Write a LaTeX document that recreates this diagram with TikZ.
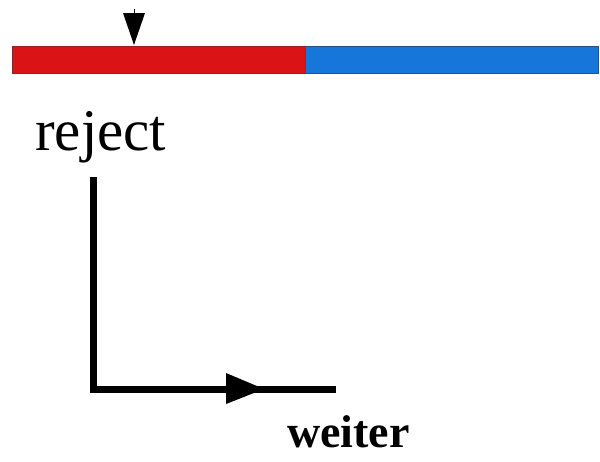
\documentclass[tikz,border=0pt]{standalone}
\usepackage{fontspec}
\setmainfont{Liberation Serif}
\usetikzlibrary{arrows.meta}
\definecolor{barred}{RGB}{218,20,22}
\definecolor{barblue}{RGB}{22,118,218}
\definecolor{rededge}{RGB}{150,30,30}
\definecolor{blueedge}{RGB}{40,80,130}
\begin{document}
\begin{tikzpicture}[x=1pt,y=-1pt,
  segment/.style={line width=1pt},
  flow/.style={line width=7pt, line cap=butt},
  lbl/.style={inner sep=0pt, anchor=base west}]
\useasboundingbox (0,0) rectangle (600,461);
% bar
\filldraw[segment, fill=barred, draw=rededge] (12,46) rectangle (305,73);
\filldraw[segment, fill=barblue, draw=blueedge] (305,46) rectangle (598,73);
% marker
\coordinate (mtop) at (134,9);
\coordinate (mtip) at (134,45);
\draw[line width=1pt] (mtop) -- (134,14);
\fill (123,13) -- (145,13) -- (mtip) -- cycle;
% labels
\node[lbl, font=\fontsize{59}{59}\selectfont] (rej) at (35,150) {reject};
\node[lbl, font=\fontsize{46}{46}\selectfont\bfseries] (wei) at (287,447) {weiter};
% L connector
\coordinate (ltop) at (93,177);
\coordinate (lend) at (336,389);
\draw[flow, line join=miter] (ltop) |- (lend);
\fill (226,373) -- (264,389) -- (226,404) -- cycle;
\end{tikzpicture}
\end{document}
